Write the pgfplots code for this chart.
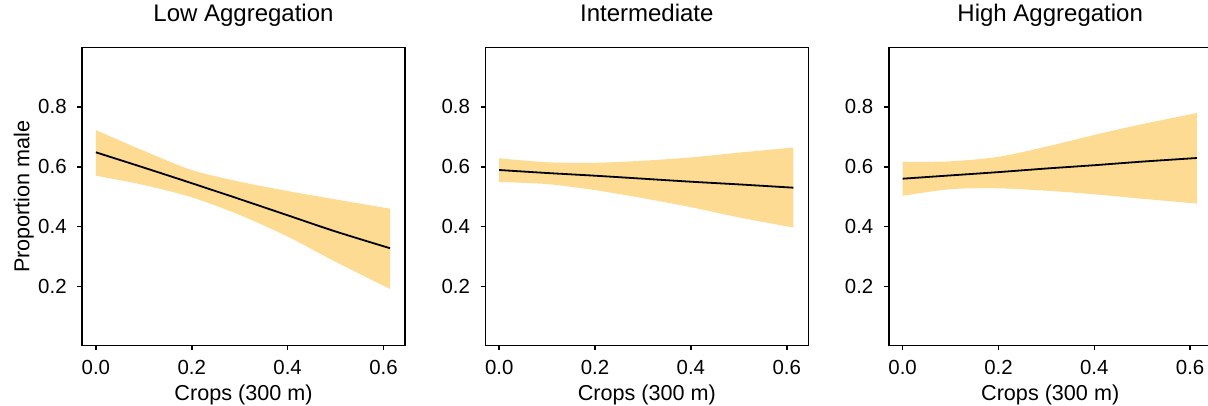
\documentclass[border=0pt]{standalone}
\usepackage{pgfplots}
\pgfplotsset{compat=1.18}
\usepackage{pgfplotstable}
\usepgfplotslibrary{fillbetween}
\usepackage{fontspec}
\setmainfont{Liberation Sans}
\definecolor{ribbon}{RGB}{253,219,146}

\pgfplotstableread{
x lo fit hi
0 0.570 0.648 0.722
0.1 0.539 0.597 0.653
0.2 0.498 0.545 0.589
0.3 0.439 0.492 0.550
0.4 0.367 0.438 0.519
0.5 0.283 0.384 0.491
0.614 0.192 0.328 0.460
}\lowtab
\pgfplotstableread{
x lo fit hi
0 0.549 0.589 0.628
0.1 0.542 0.579 0.615
0.2 0.522 0.570 0.613
0.3 0.495 0.560 0.620
0.4 0.465 0.550 0.631
0.5 0.431 0.541 0.647
0.614 0.397 0.530 0.664
}\midtab
\pgfplotstableread{
x lo fit hi
0 0.503 0.560 0.616
0.1 0.525 0.571 0.618
0.2 0.528 0.582 0.633
0.3 0.520 0.594 0.667
0.4 0.508 0.605 0.706
0.5 0.493 0.617 0.742
0.614 0.477 0.629 0.779
}\hightab

\pgfplotsset{
  panel/.style={
    scale only axis, width=161.5pt, height=149pt,
    anchor=south west,
    xmin=-0.029, xmax=0.645, ymin=0.003, ymax=0.997,
    xtick={0,0.2,0.4,0.6}, ytick={0.2,0.4,0.6,0.8},
    tick align=outside, major tick length=2.3pt,
    xtick pos=bottom, ytick pos=left,
    axis line style={line width=0.8pt},
    every tick/.style={black, line width=0.8pt},
    /pgf/number format/assume math mode=true,
    /pgf/number format/fixed, /pgf/number format/fixed zerofill, /pgf/number format/precision=1,
    ticklabel style={font=\fontsize{10.2}{12}\selectfont},
    xticklabel style={anchor=base, yshift=-12.2pt},
    yticklabel style={anchor=east, inner sep=0pt, xshift=-5.2pt},
    title style={at={(axis description cs:0.5,1)}, anchor=base, yshift=7.2pt, font=\fontsize{12}{14}\selectfont},
    xlabel style={at={(axis description cs:0.5,0)}, anchor=base, yshift=-27.2pt, font=\fontsize{10.8}{13}\selectfont},
    ylabel style={at={(axis description cs:0,0.5)}, anchor=base, yshift=26.3pt, font=\fontsize{10.8}{13}\selectfont},
    xlabel={Crops (300 m)},
    band/.style={draw=none, forget plot, smooth, tension=0.5},
  }
}

\begin{document}
\begin{tikzpicture}
\begin{axis}[panel, at={(41pt,30.15pt)}, title={Low Aggregation}, ylabel={Proportion male}]
  \addplot[band, name path=hi] table[x=x,y=hi] {\lowtab};
  \addplot[band, name path=lo] table[x=x,y=lo] {\lowtab};
  \addplot[fill=ribbon, draw=none] fill between[of=hi and lo];
  \addplot[black, line width=0.9pt, smooth, tension=0.5] table[x=x,y=fit] {\lowtab};
\end{axis}
\begin{axis}[panel, at={(242.65pt,30.15pt)}, title={Intermediate}]
  \addplot[band, name path=hi] table[x=x,y=hi] {\midtab};
  \addplot[band, name path=lo] table[x=x,y=lo] {\midtab};
  \addplot[fill=ribbon, draw=none] fill between[of=hi and lo];
  \addplot[black, line width=0.9pt, smooth, tension=0.5] table[x=x,y=fit] {\midtab};
\end{axis}
\begin{axis}[panel, at={(444.35pt,30.15pt)}, title={High Aggregation}]
  \addplot[band, name path=hi] table[x=x,y=hi] {\hightab};
  \addplot[band, name path=lo] table[x=x,y=lo] {\hightab};
  \addplot[fill=ribbon, draw=none] fill between[of=hi and lo];
  \addplot[black, line width=0.9pt, smooth, tension=0.5] table[x=x,y=fit] {\hightab};
\end{axis}
\pgfresetboundingbox
\path[use as bounding box] (0,0) rectangle (604pt,203pt);
\end{tikzpicture}
\end{document}
